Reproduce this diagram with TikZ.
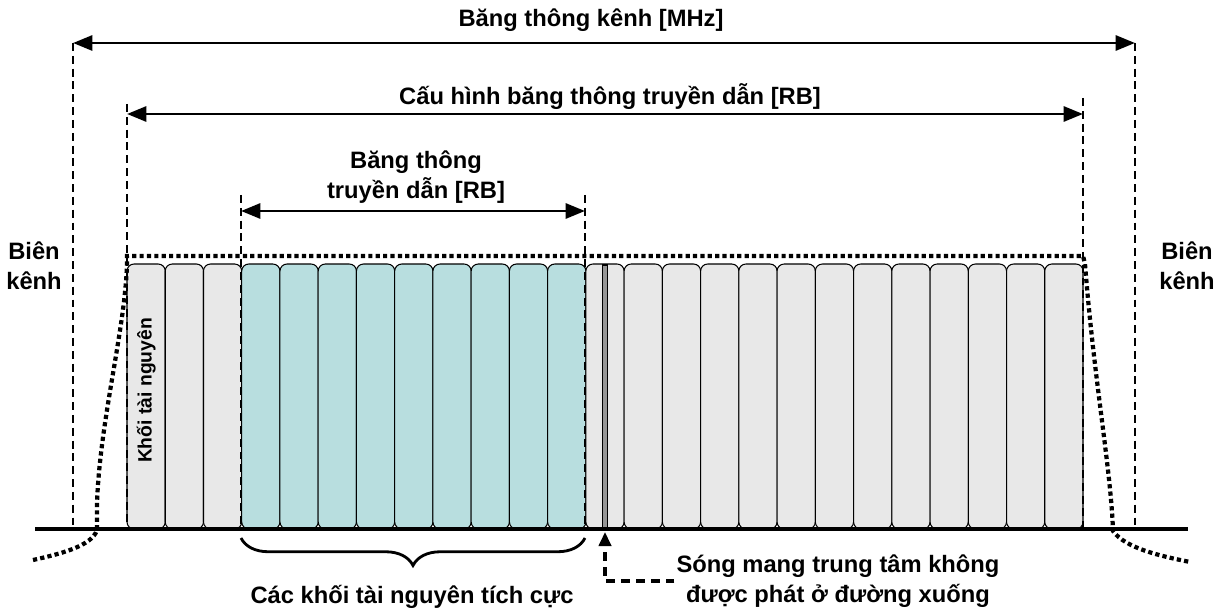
\documentclass[tikz,border=0pt]{standalone}
\usepackage{fontspec}
\setmainfont{Liberation Sans}
\usepackage{tikz}
\usetikzlibrary{arrows.meta, positioning, decorations.pathreplacing, calc}
\definecolor{idlecolor}{RGB}{232, 232, 232}
\definecolor{activecolor}{RGB}{184, 222, 223}
\definecolor{dccolor}{RGB}{150, 150, 150}

\begin{document}
\begin{tikzpicture}[
    x=0.02cm, y=-0.02cm,
    rblock/.style={draw, line width=0.6pt, rounded corners=4pt, fill=idlecolor, minimum width=0.765cm, minimum height=5.3cm, inner sep=0pt},
    caption/.style={font=\fontsize{13.5}{17}\selectfont\bfseries, align=center, inner sep=1pt},
    span/.style={line width=1.7pt, {Triangle[length=11pt, width=8.5pt]}-{Triangle[length=11pt, width=8.5pt]}},
    guide/.style={line width=1.2pt, dash pattern=on 4.5pt off 2.8pt},
    noteguide/.style={line width=1.8pt, dash pattern=on 5pt off 3.5pt},
    envelope/.style={line width=2.4pt, dash pattern=on 2.4pt off 1.8pt},
]
    \useasboundingbox (0,0) rectangle (1220,611);

    % Resource blocks
    \foreach \i in {1,...,3}
        \node[rblock] (rb\i) at ({127+38.24*(\i-0.5)}, 396.5) {};
    \foreach \i in {4,...,12}
        \node[rblock, fill=activecolor] (rb\i) at ({127+38.24*(\i-0.5)}, 396.5) {};
    \foreach \i in {13,...,25}
        \node[rblock] (rb\i) at ({127+38.24*(\i-0.5)}, 396.5) {};
    \node[rotate=90, font=\fontsize{11}{13}\selectfont\bfseries] at ($(rb1)+(0,-6)$) {Khối tài nguyên};

    % DC subcarrier
    \node[draw, line width=0.6pt, fill=dccolor, minimum width=0.1cm, minimum height=5.28cm, inner sep=0pt] (dc) at (605, 397) {};

    % Frequency axis
    \coordinate (axl) at (35, 529);
    \coordinate (axr) at (1188, 529);
    \draw[line width=2.3pt] (axl) -- (axr);

    % Spectrum envelope
    \draw[envelope] (33,560) .. controls (60,554) and (92,546) .. (97,530) -- (97,503)
        .. controls (100,420) and (125,330) .. (127,264) -- (127,256) -- (1083,256) -- (1085,264)
        .. controls (1094,380) and (1111,470) .. (1113,531)
        .. controls (1125,548) and (1160,556) .. (1190,562);

    % Bandwidth spans
    \coordinate (chl) at (73, 43);
    \coordinate (chr) at (1135, 43);
    \coordinate (cfl) at (127, 114);
    \coordinate (cfr) at (1083, 114);
    \coordinate (txl) at (241, 211);
    \coordinate (txr) at (585, 211);

    \draw[guide] (chl) -- (chl |- axl);
    \draw[guide] (chr) -- (chr |- axl);
    \draw[guide] ($(cfl)+(0,-10)$) -- (cfl |- axl);
    \draw[guide] ($(cfr)+(0,-16)$) -- (cfr |- axl);
    \draw[guide] ($(txl)+(0,-16)$) -- (txl |- axl);
    \draw[guide] ($(txr)+(0,-16)$) -- (txr |- axl);

    \draw[span] (chl) -- (chr);
    \draw[span] (cfl) -- (cfr);
    \draw[span] (txl) -- (txr);

    \node[caption] (chbw) at (591, 20) {Băng thông kênh [MHz]};
    \node[caption] (cfbw) at (610, 97) {Cấu hình băng thông truyền dẫn [RB]};
    \node[caption] (txbw) at (416, 177) {Băng thông\\truyền dẫn [RB]};

    % Channel edges
    \node[caption] (edgel) at (34, 266) {Biên\\kênh};
    \node[caption] (edger) at (1187, 266) {Biên\\kênh};

    % Active blocks
    \draw[line width=1.6pt, decorate, decoration={brace, amplitude=0.55cm}] (585, 538) -- (241, 538);
    \node[caption] (active) at (412, 597) {Các khối tài nguyên tích cực};

    % DC note
    \coordinate (dcfoot) at (605, 532);
    \node[caption] (dcnote) at (838, 581) {Sóng mang trung tâm không\\được phát ở đường xuống};
    \draw[noteguide, -{Triangle[length=8pt, width=7pt]}] (dcnote.west) -| (dcfoot);

\end{tikzpicture}
\end{document}
